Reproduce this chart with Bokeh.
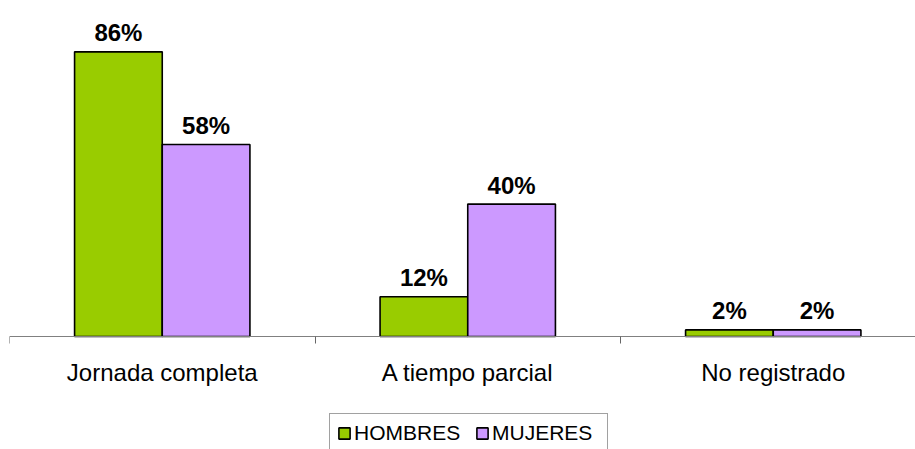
from bokeh.plotting import figure
from bokeh.models import Range1d, FixedTicker, Legend, LegendItem, ColumnDataSource
from bokeh.embed import file_html
from bokeh.resources import INLINE
from bokeh.core.properties import value

categories = ["Jornada completa", "A tiempo parcial", "No registrado"]
hombres = [86, 12, 2]
mujeres = [58, 40, 2]
series_names = ["HOMBRES", "MUJERES"]
colors = ["#99CC00", "#CC99FF"]

FONT = "Liberation Sans"
bar_w = 0.287
idx = list(range(len(categories)))
px_per_unit = 3.31

p = figure(frame_width=906, frame_height=449, output_backend="svg", toolbar_location=None,
           x_range=Range1d(0, 906 / 305.5),
           y_range=Range1d(-(449 - 336) / px_per_unit, 336 / px_per_unit),
           min_border_left=9, min_border_right=0, min_border_top=0, min_border_bottom=0)
p.outline_line_color = None
p.xgrid.visible = False
p.ygrid.visible = False
p.yaxis.visible = False

src_h = ColumnDataSource(dict(x=[i + 0.5 - bar_w / 2 for i in idx], top=hombres,
                              lab=[f"{v}%" for v in hombres]))
src_m = ColumnDataSource(dict(x=[i + 0.5 + bar_w / 2 for i in idx], top=mujeres,
                              lab=[f"{v}%" for v in mujeres]))

r_h = p.vbar(x="x", top="top", width=bar_w, bottom=0, source=src_h,
             fill_color=colors[0], line_color="black", line_width=1.6)
r_m = p.vbar(x="x", top="top", width=bar_w, bottom=0, source=src_m,
             fill_color=colors[1], line_color="black", line_width=1.6)

for s in (src_h, src_m):
    p.text(x="x", y="top", text="lab", source=s, text_align="center",
           text_baseline="alphabetic", y_offset=-19,
           text_font=value(FONT), text_font_size="24px", text_font_style="bold",
           text_color="black")

ax = p.xaxis[0]
ax.fixed_location = 0
ax.ticker = FixedTicker(ticks=[i + 0.5 for i in idx], minor_ticks=[0, 1, 2, 3])
ax.major_label_overrides = {i + 0.5: c for i, c in zip(idx, categories)}
ax.major_tick_out = 0
ax.major_tick_in = 0
ax.minor_tick_out = 7
ax.minor_tick_in = 0
ax.minor_tick_line_color = "#666666"
ax.axis_line_color = "#808080"
ax.axis_line_width = 1.2
ax.major_label_text_font = FONT
ax.major_label_text_font_size = "24px"
ax.major_label_text_color = "black"
ax.major_label_standoff = 15

legend = Legend(items=[LegendItem(label=series_names[0], renderers=[r_h]),
                       LegendItem(label=series_names[1], renderers=[r_m])],
                orientation="horizontal", location=(320, -4),
                label_text_font=FONT, label_text_font_size="21px",
                label_text_color="black", glyph_width=14, glyph_height=14,
                label_standoff=3, label_width=108, spacing=13, padding=7, margin=0,
                border_line_color="#444444", border_line_width=1,
                background_fill_color="white")
p.add_layout(legend, "center")

open("out.html", "w").write(file_html(p, INLINE))
